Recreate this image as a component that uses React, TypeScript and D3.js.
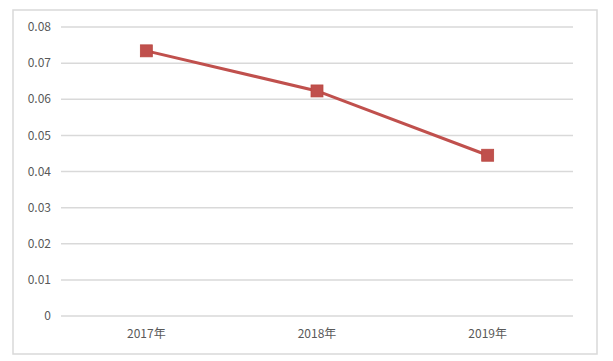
import React from "react";
import * as d3 from "d3";

const categories = ["2017年", "2018年", "2019年"];
const values = [0.0734, 0.0623, 0.0445];
const yTicks = [0, 0.01, 0.02, 0.03, 0.04, 0.05, 0.06, 0.07, 0.08];

const W = 613;
const H = 361;
const left = 61;
const right = 573;
const top = 27;
const bottom = 316;

export default function App() {
  const x = d3.scaleBand<string>().domain(categories).range([left, right]);
  const y = d3.scaleLinear().domain([0, 0.08]).range([bottom, top]);
  const line = d3
    .line<number>()
    .x((_, i) => (x(categories[i]) as number) + x.bandwidth() / 2)
    .y((d) => y(d));
  const font = "'Noto Sans CJK SC', 'Liberation Sans', sans-serif";
  return (
    <div style={{ position: "absolute", left: 0, top: 0 }}>
      <svg width={W} height={H} style={{ display: "block", background: "#fff" }}>
        <rect x={13} y={10} width={584} height={344} fill="#fff" stroke="#d9d9d9" strokeWidth={1.5} />
        {yTicks.map((t) => (
          <g key={t}>
            <line x1={left} x2={right} y1={y(t)} y2={y(t)} stroke="#d9d9d9" strokeWidth={1.5} />
            <text
              x={51}
              y={y(t)}
              dy="0.35em"
              textAnchor="end"
              fontSize={12}
              fill="#595959"
              fontFamily={font}
            >
              {t === 0 ? "0" : d3.format(".2f")(t)}
            </text>
          </g>
        ))}
        {categories.map((c) => (
          <text
            key={c}
            x={(x(c) as number) + x.bandwidth() / 2}
            y={334}
            dy="0.35em"
            textAnchor="middle"
            fontSize={12}
            fill="#595959"
            fontFamily={font}
          >
            {c}
          </text>
        ))}
        <path d={line(values) || ""} fill="none" stroke="#c0504d" strokeWidth={3} />
        {values.map((v, i) => {
          const cx = (x(categories[i]) as number) + x.bandwidth() / 2;
          const cy = y(v);
          return <rect key={i} x={cx - 6} y={cy - 6} width={12} height={12} fill="#c0504d" stroke="#b9463f" strokeWidth={0.75} />;
        })}
      </svg>
    </div>
  );
}
